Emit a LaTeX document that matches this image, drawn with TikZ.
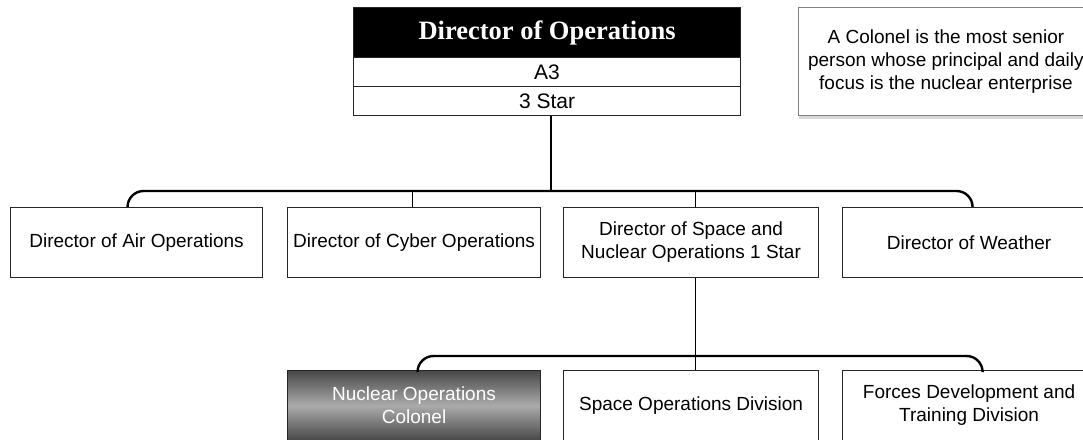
\documentclass[tikz,border=0pt]{standalone}
\usepackage{fontspec}
\setmainfont{Liberation Sans}
\newfontfamily\hdrfont{Liberation Serif}
\usetikzlibrary{shadows}
\begin{document}
\begin{tikzpicture}[x=1pt,y=-1pt,
  box/.style={draw=black!85,line width=1.1pt,fill=white,anchor=north west,inner sep=0pt,
     minimum width=#1,minimum height=70pt,align=center,font=\fontsize{19}{23}\selectfont},
  box/.default=253pt,
  row/.style={draw=black!85,line width=1.1pt,fill=white,anchor=north west,inner sep=0pt,
     minimum width=387pt,minimum height=29pt,font=\fontsize{21}{24}\selectfont},
  bus/.style={draw=black,line width=2.4pt,rounded corners=16pt},
  conn/.style={draw=black,line width=1.3pt}]
\useasboundingbox (0,0) rectangle (1083,439);
% top box
\node[row,fill=black,minimum height=50pt,text=white,font=\hdrfont\bfseries\fontsize{26.5}{30}\selectfont] (hdr) at (353,7) {Director of Operations};
\node[row] (a3) at (353,57) {A3};
\node[row] (star) at (353,86) {3 Star};
% note
\node[box=295pt,minimum height=108pt,drop shadow={shadow xshift=1pt,shadow yshift=-4pt,opacity=0.25,fill=black!60},draw=black!50,line width=0.8pt] (note) at (798,7)
  {A Colonel is the most senior\\person whose principal and daily\\focus is the nuclear enterprise};
% second row
\node[box=252pt] (air) at (10,207) {Director of Air Operations};
\node[box] (cyber) at (287,207) {Director of Cyber Operations};
\node[box=255pt] (space) at (563,207) {Director of Space and\\Nuclear Operations 1 Star};
\node[box] (weather) at (842,207) {Director of Weather};
% third row
\node[box,top color=black!72,bottom color=black!72,middle color=black!33,text=white] (nuc) at (287,370) {Nuclear Operations\\Colonel};
\node[box=255pt] (sod) at (563,370) {Space Operations Division};
\node[box] (forces) at (842,370) {Forces Development and\\Training Division};
% connectors
\coordinate (b1) at (551,191);
\coordinate (b2) at (695,356);
\draw[bus] ([xshift=-9pt]air.north) |- (b1) -| ([xshift=3.5pt]weather.north);
\draw[conn] (star.south -| b1) -- ([yshift=-1pt]b1);
\draw[conn] ([xshift=-1.5pt]cyber.north) -- ([xshift=-1.5pt]cyber.north |- b1);
\draw[conn] ([xshift=4.5pt]space.north) -- ([xshift=4.5pt]space.north |- b1);
\draw[bus] ([xshift=3.5pt]nuc.north) |- (b2) -| ([xshift=13.5pt]forces.north);
\draw[conn] ([xshift=4.5pt]space.south) -- ([xshift=4.5pt]sod.north);
\end{tikzpicture}
\end{document}
